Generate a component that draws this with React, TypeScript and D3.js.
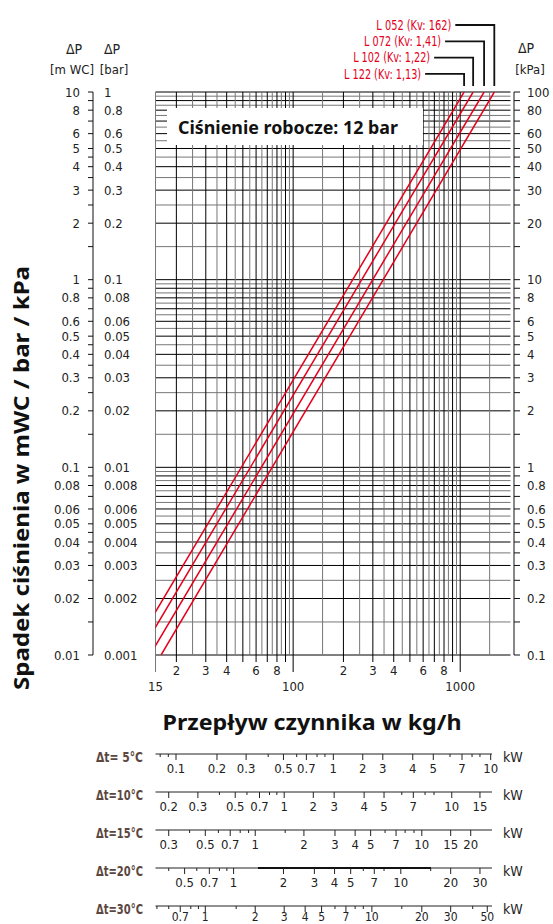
import React from 'react';
import * as d3 from 'd3';

// valve curves: flow (kg/h) at 0.001 bar and at 1 bar
const valveNames = ['L 052 (Kv: 162)', 'L 072 (Kv: 1,41)', 'L 102 (Kv: 1,22)', 'L 122 (Kv: 1,13)'];
const flowLow = [16.2, 13.9, 11.95, 10.55];
const flowHigh = [1600, 1390, 1195, 1055];
const dpLow = 0.001;
const dpHigh = 1;

// pressure axes (mWC positions, labels for each unit)
const mwcTicks = [10, 8, 6, 5, 4, 3, 2, 1, 0.8, 0.6, 0.5, 0.4, 0.3, 0.2, 0.1, 0.08, 0.06, 0.05, 0.04, 0.03, 0.02, 0.01];
const mwcLabels = ['10', '8', '6', '5', '4', '3', '2', '1', '0.8', '0.6', '0.5', '0.4', '0.3', '0.2', '0.1', '0.08', '0.06', '0.05', '0.04', '0.03', '0.02', '0.01'];
const barLabels = ['1', '0.8', '0.6', '0.5', '0.4', '0.3', '0.2', '0.1', '0.08', '0.06', '0.05', '0.04', '0.03', '0.02', '0.01', '0.008', '0.006', '0.005', '0.004', '0.003', '0.002', '0.001'];
const kpaLabels = ['100', '80', '60', '50', '40', '30', '20', '10', '8', '6', '5', '4', '3', '2', '1', '0.8', '0.6', '0.5', '0.4', '0.3', '0.2', '0.1'];
const axisMinor = [1, 1.5, 2, 2.5, 3, 3.5, 4, 4.5, 5, 6, 7, 8, 9];
const gridSteps = [1, 1.5, 2, 2.5, 3, 3.5, 4, 4.5, 5, 5.5, 6, 6.5, 7, 7.5, 8, 8.5, 9, 9.5];

// flow axis
const flowSmallTicks = [20, 30, 40, 60, 80, 200, 300, 400, 600, 800];
const flowSmallLabels = ['2', '3', '4', '6', '8', '2', '3', '4', '6', '8'];
const flowBigTicks = [15, 100, 1000];

// heating power scales: kW value and the flow (kg/h) it sits over
const dtLabels = ['Δt= 5°C', 'Δt=10°C', 'Δt=15°C', 'Δt=20°C', 'Δt=30°C'];
const kwTicks = [
  [0.08, 0.09, 0.1, 0.2, 0.3, 0.4, 0.5, 0.6, 0.7, 0.8, 0.9, 1, 2, 3, 4, 5, 6, 7, 8, 9, 10],
  [0.2, 0.3, 0.4, 0.5, 0.6, 0.7, 0.8, 0.9, 1, 2, 3, 4, 5, 6, 7, 8, 9, 10, 15],
  [0.3, 0.4, 0.5, 0.6, 0.7, 0.8, 0.9, 1, 1.5, 2, 3, 4, 5, 6, 7, 8, 9, 10, 15, 20],
  [0.4, 0.5, 0.6, 0.7, 0.8, 0.9, 1, 2, 3, 4, 5, 6, 7, 8, 10, 15, 20, 30],
  [0.5, 0.6, 0.7, 0.8, 0.9, 1, 1.5, 2, 3, 4, 5, 6, 7, 8, 9, 10, 15, 20, 30, 40, 50],
];
const kwFlows = [
  [16, 17.9, 19.9, 35, 52.3, 70.9, 87.5, 105, 120, 139, 155, 174, 261, 344, 520, 690, 869, 1025, 1177, 1313, 1522],
  [18, 26.9, 36.2, 45, 52.9, 62.9, 72.2, 79.9, 88.4, 132, 176, 266, 350, 447, 524, 616, 697, 890, 1313],
  [18, 24, 29.8, 35.7, 42, 48.2, 54.1, 59.3, 89.6, 116, 178, 235, 291, 355, 413, 468, 529, 589, 877, 1156],
  [18, 22.4, 26.5, 31.5, 36.2, 40.1, 44, 87.5, 134, 177, 221, 263, 306, 350, 441, 666, 877, 1313],
  [15.3, 18, 21.1, 24.4, 27.1, 29.8, 45.6, 59.3, 88.4, 118, 148, 178, 207, 235, 263, 296, 447, 589, 877, 1188, 1452],
];
const kwLabeled = [
  [0.1, 0.2, 0.3, 0.5, 0.7, 1, 2, 3, 4, 5, 7, 10],
  [0.2, 0.3, 0.5, 0.7, 1, 2, 3, 4, 5, 7, 10, 15],
  [0.3, 0.5, 0.7, 1, 2, 3, 4, 5, 7, 10, 15, 20],
  [0.5, 0.7, 1, 2, 3, 4, 5, 7, 10, 20, 30],
  [0.7, 1, 2, 3, 4, 5, 7, 10, 20, 30, 50],
];

const FONT = "'Liberation Sans Narrow', 'DejaVu Sans Condensed', 'Roboto', sans-serif";
const BOLD = "'Noto Sans', 'DejaVu Sans', sans-serif";
const RED = '#e3001b';

export default function App() {
  const width = 553, height = 924;
  const x = d3.scaleLog().domain([15, 2000]).range([155.5, 510.5]);
  const y = d3.scaleLog().domain([0.01, 10]).range([655, 92]);
  const [x0, x1] = x.range();
  const [yb, yt] = y.range();

  const xGrid = [...d3.range(15, 100, 5), 100, 150, ...d3.range(200, 1001, 50), 1500];
  const yGrid = [0.01, 0.1, 1].flatMap(k => gridSteps.map(s => s * k)).concat([10]);
  const yAxisTicks = [0.01, 0.1, 1].flatMap(k => axisMinor.map(s => s * k)).concat([10]);

  const isMajor = (v: number) => {
    const dec = Math.pow(10, Math.floor(Math.log10(v) + 1e-9));
    return Math.abs(v / dec - Math.round(v / dec)) < 1e-6;
  };

  const line = d3.line<[number, number]>().x(d => x(d[0])).y(d => y(d[1] * 10));

  const rowY = (i: number) => 754 + i * 38;
  const axisEnd = 492;

  return (
    <div style={{ position: 'absolute', left: 0, top: 0 }}>
      <svg width={width} height={height} style={{ display: 'block', background: '#fff' }}>
        <defs>
          <clipPath id="plot">
            <rect x={x0} y={yt} width={x1 - x0} height={yb - yt} />
          </clipPath>
        </defs>

        {/* grid */}
        <g>
          {yGrid.map((v, i) => (
            <line key={'h' + i} x1={x0} x2={x1} y1={y(v)} y2={y(v)}
              stroke={isMajor(v) ? '#000' : '#777'} strokeWidth={1} />
          ))}
          {xGrid.map((v, i) => (
            <line key={'v' + i} x1={x(v)} x2={x(v)} y1={yt}
              y2={flowBigTicks.includes(v) ? yb + 17 : (isMajor(v) ? yb + 7 : yb)}
              stroke={isMajor(v) ? '#000' : '#777'} strokeWidth={1} />
          ))}
        </g>

        {/* valve curves */}
        <g clipPath="url(#plot)" fill="none" stroke={RED} strokeWidth={1.5}>
          {valveNames.map((n, i) => (
            <path key={n} d={line([[flowLow[i], dpLow], [flowHigh[i], dpHigh]]) as string} />
          ))}
        </g>

        {/* working pressure box */}
        <rect x={167} y={108} width={256} height={37} fill="#fff" />
        <text x={178} y={134} fontFamily={BOLD} fontWeight={700} fontSize={17} fill="#111"
          textLength={220} lengthAdjust="spacingAndGlyphs">Ciśnienie robocze: 12 bar</text>

        {/* valve labels with leaders */}
        <g fontFamily={FONT} fontSize={13.5} fill={RED}>
          {valveNames.map((n, i) => {
            const lx = x(flowHigh[i]);
            const ly = 25 + i * 16.3;
            return (
              <g key={n}>
                <text x={lx - 43} y={ly} dy="0.35em" textAnchor="end"
                  textLength={i === 0 ? 75 : 77} lengthAdjust="spacingAndGlyphs">{n}</text>
                <path d={`M${lx - 39},${ly}H${lx}V86`} fill="none" stroke="#111" strokeWidth={1.8} />
              </g>
            );
          })}
        </g>

        {/* left mWC axis */}
        <g fontFamily={FONT} fontSize={13} fill="#222">
          <line x1={93} x2={93} y1={yt} y2={yb} stroke="#111" />
          {yAxisTicks.map((v, i) => (
            <line key={i} x1={88} x2={93} y1={y(v)} y2={y(v)} stroke="#111" />
          ))}
          {mwcTicks.map((v, i) => (
            <text key={'m' + i} x={80} y={y(v)} dy="0.35em" textAnchor="end">{mwcLabels[i]}</text>
          ))}
          {mwcTicks.map((v, i) => (
            <text key={'b' + i} x={104} y={y(v)} dy="0.35em">{barLabels[i]}</text>
          ))}
          <text x={74} y={54} textAnchor="middle" fontSize={14}>ΔP</text>
          <text x={72} y={74} textAnchor="middle">[m WC]</text>
          <text x={112} y={54} textAnchor="middle" fontSize={14}>ΔP</text>
          <text x={114} y={74} textAnchor="middle">[bar]</text>
        </g>

        {/* right kPa axis */}
        <g fontFamily={FONT} fontSize={13} fill="#222">
          <line x1={514} x2={514} y1={yt} y2={yb} stroke="#111" />
          {yAxisTicks.map((v, i) => (
            <line key={i} x1={514} x2={520} y1={y(v)} y2={y(v)} stroke="#111" />
          ))}
          {mwcTicks.map((v, i) => (
            <text key={'k' + i} x={527} y={y(v)} dy="0.35em">{kpaLabels[i]}</text>
          ))}
          <text x={526} y={53} textAnchor="middle" fontSize={14}>ΔP</text>
          <text x={530} y={74} textAnchor="middle">[kPa]</text>
        </g>

        {/* flow axis labels */}
        <g fontFamily={FONT} fontSize={13} fill="#222" textAnchor="middle">
          {flowSmallTicks.map((v, i) => (
            <text key={'s' + i} x={x(v)} y={675}>{flowSmallLabels[i]}</text>
          ))}
          {flowBigTicks.map((v, i) => (
            <text key={'g' + i} x={x(v)} y={691}>{v}</text>
          ))}
        </g>

        {/* axis titles */}
        <text x={312} y={730} textAnchor="middle" fontFamily={BOLD} fontWeight={700} fontSize={22} fill="#111"
          textLength={299} lengthAdjust="spacingAndGlyphs">Przepływ czynnika w kg/h</text>
        <text transform="translate(29,478) rotate(-90)" textAnchor="middle" fontFamily={BOLD} fontWeight={700} fontSize={21} fill="#111"
          textLength={424} lengthAdjust="spacingAndGlyphs">Spadek ciśnienia w mWC / bar / kPa</text>

        {/* power scales */}
        {dtLabels.map((lab, r) => {
          const ry = rowY(r);
          const last = r === dtLabels.length - 1;
          return (
            <g key={lab}>
              <text x={143} y={ry + 8} textAnchor="end" fontFamily={FONT} fontWeight={700} fontSize={14} fill="#5b4740"
                textLength={47} lengthAdjust="spacingAndGlyphs">{lab}</text>
              <line x1={x0} x2={axisEnd} y1={ry} y2={ry} stroke="#222" strokeWidth={1} />
              {r === 3 && <line x1={258} x2={431} y1={ry} y2={ry} stroke="#111" strokeWidth={2} />}
              {kwTicks[r].map((k, j) => {
                const tx = x(kwFlows[r][j]);
                const big = kwLabeled[r].includes(k);
                return <line key={j} x1={tx} x2={tx} y1={ry} y2={ry + (big ? 6 : 3)} stroke="#222" />;
              })}
              {kwTicks[r].map((k, j) => kwLabeled[r].includes(k) ? (
                <text key={'t' + j} x={x(kwFlows[r][j])} y={ry + (last ? 15 : 19)} textAnchor="middle"
                  fontFamily={FONT} fontSize={last ? 12 : 13} fill="#222">{k}</text>
              ) : null)}
              <text x={503} y={ry + 8} fontFamily={FONT} fontSize={14} fill="#222">kW</text>
            </g>
          );
        })}
      </svg>
    </div>
  );
}
